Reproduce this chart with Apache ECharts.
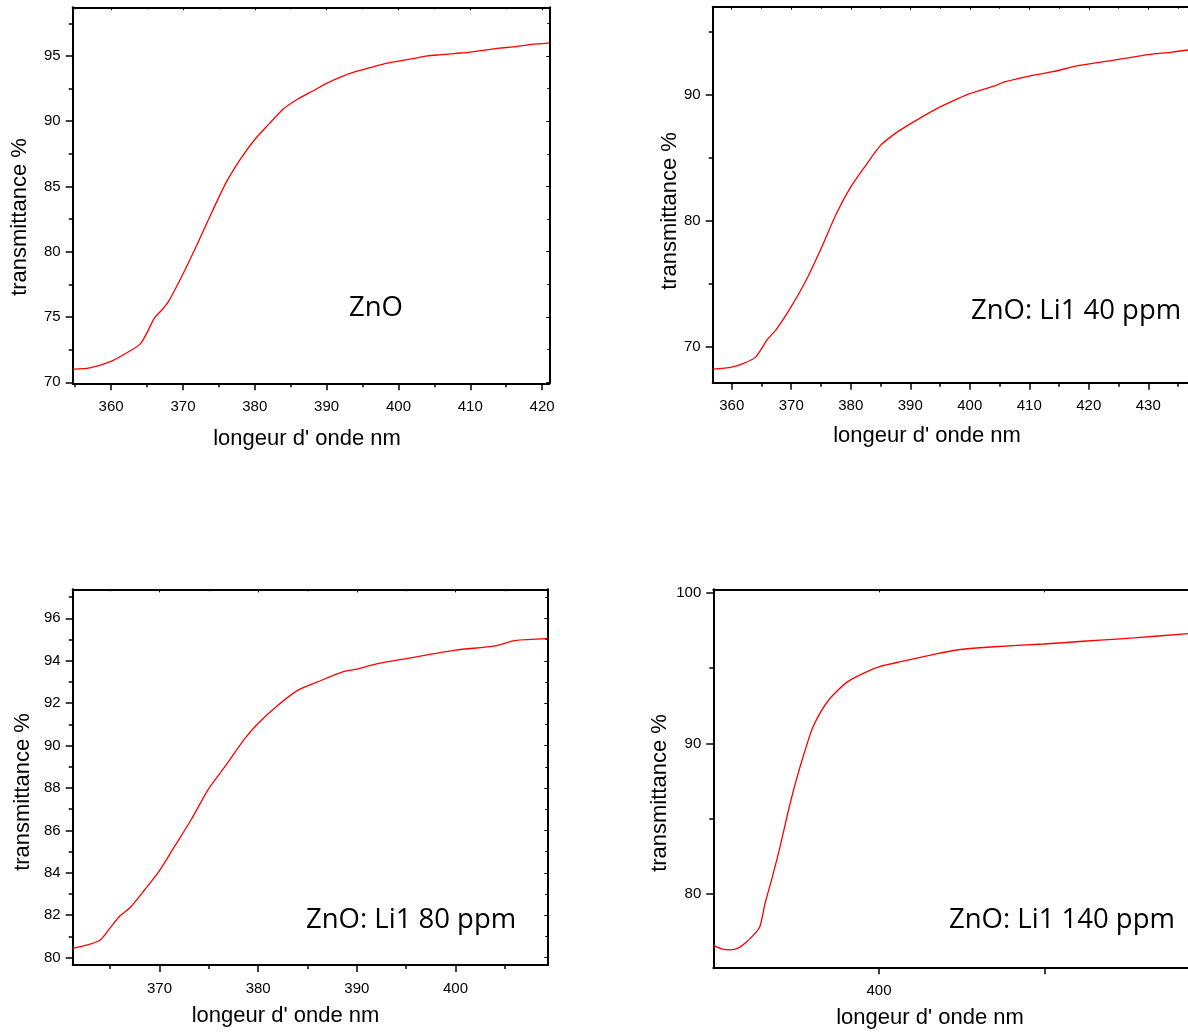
<!DOCTYPE html>
<html>
<head>
<meta charset="utf-8">
<script src="https://cdn.jsdelivr.net/npm/echarts@6/dist/echarts.min.js"></script>
<style>
html,body{margin:0;padding:0;background:#fff;}
#main{width:1188px;height:1032px;}
</style>
</head>
<body>
<div id="main"></div>
<script>
// ZnO (en haut a gauche)
var znoX = [354.7,357,360,362,364,365,366,367,368,370,372,374,376,378,380,382,384,386,388,390,392,394,396,398,400,402,404,406,408,410,412,414,416,418,420,421];
var znoY = [71.0,71.1,71.6,72.2,72.9,73.8,74.9,75.5,76.2,78.3,80.6,83.0,85.3,87.1,88.6,89.8,90.95,91.7,92.3,92.9,93.4,93.8,94.1,94.4,94.6,94.8,95.0,95.1,95.2,95.3,95.45,95.6,95.7,95.85,95.95,96.0];

// ZnO: Li1 40 ppm (en haut a droite)
var li40X = [356.8,360,362,364,366,367.5,370,372.5,375,377.5,380,382.5,385,387.5,390,394,398,400,404,406,410,414,418,422,426,430,434,438,442];
var li40Y = [68.25,68.4,68.7,69.2,70.6,71.4,73.2,75.3,77.8,80.5,82.7,84.4,86.0,86.95,87.7,88.8,89.7,90.1,90.7,91.05,91.5,91.85,92.3,92.6,92.9,93.2,93.4,93.65,93.9];

// ZnO: Li1 80 ppm (en bas a gauche)
var li80X = [361.2,362.7,364,365,366,367,368.5,370,371.6,373.2,374.9,376.7,378.6,380,382,384,386,388.7,390,392,395,400,404,406,409.3];
var li80Y = [80.44,80.6,80.83,81.4,81.97,82.35,83.2,84.1,85.3,86.5,87.9,89.05,90.3,91.05,91.9,92.6,93.0,93.5,93.6,93.85,94.1,94.5,94.7,94.95,95.04];

// ZnO: Li1 140 ppm (en bas a droite)
var li140X = [350,352.5,355,357.6,360.5,363.9,365.6,367.8,370.1,372.4,374.7,377.5,380.3,384.9,390.6,397.4,400.2,405.9,415.6,423.5,433.8,449.7,456.5,466.7,476.9,493.8,500];
var li140Y = [76.59,76.37,76.3,76.43,76.92,77.76,79.36,81.13,83.1,85.3,87.3,89.4,91.2,92.9,94.1,94.86,95.1,95.4,95.86,96.2,96.4,96.6,96.7,96.86,97.0,97.3,97.4];

// graduations
var p1XTicks = [360,370,380,390,400,410,420];
var p1YTicks = [70,75,80,85,90,95];
var p2XTicks = [360,370,380,390,400,410,420,430,440];
var p2YTicks = [70,80,90];
var p3XTicks = [370,380,390,400];
var p3YTicks = [80,82,84,86,88,90,92,94,96];
var p4XTicks = [400,450];
var p4XLabels = [400];
var p4YTicks = [80,90,100];

var xTitle = "longeur d' onde nm";
var yTitle = 'transmittance %';

var chart = echarts.init(document.getElementById('main'));

function pairs(xs, ys) {
    return xs.map(function (x, i) { return [x, ys[i]]; });
}

var tickFont = 'Liberation Sans, Arial, sans-serif';
var black = '#000';

// axe principal (avec etiquettes)
function mainAxis(g, pos, min, max, step, ticks, labels, minor) {
    return {
        type: 'value', gridIndex: g, position: pos,
        min: min, max: max, minInterval: step, maxInterval: step,
        axisLine: {show: true, onZero: false, lineStyle: {color: black, width: 2}},
        axisTick: {show: true, length: 7, customValues: ticks, lineStyle: {color: black, width: 1.5}},
        minorTick: {show: minor > 0, splitNumber: minor || 2, length: 4, lineStyle: {color: black, width: 1.5}},
        axisLabel: {show: true, customValues: labels, margin: pos === 'bottom' ? 16 : 12,
            fontSize: 15, color: black, fontFamily: tickFont},
        splitLine: {show: false}
    };
}

// axe miroir (haut / droite), sans etiquettes
function mirrorAxis(g, pos, min, max, step, ticks, minor) {
    return {
        type: 'value', gridIndex: g, position: pos,
        min: min, max: max, minInterval: step, maxInterval: step,
        axisLine: {show: true, onZero: false, lineStyle: {color: black, width: 2}},
        axisTick: {show: true, inside: true, length: 3, customValues: ticks, lineStyle: {color: black, width: 1}},
        minorTick: {show: minor > 0, splitNumber: minor || 2, length: 2, lineStyle: {color: black, width: 1}},
        axisLabel: {show: false},
        splitLine: {show: false}
    };
}

function curve(i, xs, ys) {
    return {
        type: 'line', xAxisIndex: 2 * i, yAxisIndex: 2 * i,
        data: pairs(xs, ys), showSymbol: false,
        smooth: 0.25,
        lineStyle: {color: '#ff0000', width: 1.3}, itemStyle: {color: '#ff0000'}
    };
}

function title(x, y, text, rot) {
    return {
        type: 'text', x: x, y: y, rotation: rot ? Math.PI / 2 : 0,
        style: {text: text, fill: black, fontSize: 22, fontFamily: tickFont, align: 'center', verticalAlign: 'middle'}
    };
}

function note(x, y, text) {
    return {
        type: 'text', x: x, y: y,
        style: {text: text, fill: black, fontSize: 27.5, fontFamily: 'Open Sans, Noto Sans, sans-serif', align: 'left', verticalAlign: 'middle'}
    };
}

var option = {
    animation: false,
    backgroundColor: '#fff',
    grid: [
        {left: 72.7, top: 7.3, width: 476.6, height: 376, outerBoundsMode: 'none'},
        {left: 712.7, top: 6.7, width: 507, height: 376, outerBoundsMode: 'none'},
        {left: 72.7, top: 589.3, width: 474.6, height: 375.7, outerBoundsMode: 'none'},
        {left: 713.3, top: 589.3, width: 497, height: 378, outerBoundsMode: 'none'}
    ],
    xAxis: [
        mainAxis(0, 'bottom', 354.65, 421.0, 10, p1XTicks, p1XTicks, 2),
        mirrorAxis(0, 'top', 354.65, 421.0, 10, p1XTicks, 2),
        mainAxis(1, 'bottom', 356.8, 442, 10, p2XTicks, p2XTicks, 2),
        mirrorAxis(1, 'top', 356.8, 442, 10, p2XTicks, 2),
        mainAxis(2, 'bottom', 361.2, 409.3, 10, p3XTicks, p3XTicks, 2),
        mirrorAxis(2, 'top', 361.2, 409.3, 10, p3XTicks, 2),
        mainAxis(3, 'bottom', 350, 500, 50, p4XTicks, p4XLabels, 0),
        mirrorAxis(3, 'top', 350, 500, 50, p4XTicks, 0)
    ],
    yAxis: [
        mainAxis(0, 'left', 69.92, 98.73, 5, p1YTicks, p1YTicks, 2),
        mirrorAxis(0, 'right', 69.92, 98.73, 5, p1YTicks, 2),
        mainAxis(1, 'left', 67.17, 97.0, 10, p2YTicks, p2YTicks, 2),
        mirrorAxis(1, 'right', 67.17, 97.0, 10, p2YTicks, 2),
        mainAxis(2, 'left', 79.65, 97.37, 2, p3YTicks, p3YTicks, 2),
        mirrorAxis(2, 'right', 79.65, 97.37, 2, p3YTicks, 2),
        mainAxis(3, 'left', 75.14, 100.23, 10, p4YTicks, p4YTicks, 2),
        mirrorAxis(3, 'right', 75.14, 100.23, 10, p4YTicks, 2)
    ],
    series: [
        curve(0, znoX, znoY),
        curve(1, li40X, li40Y),
        curve(2, li80X, li80Y),
        curve(3, li140X, li140Y)
    ],
    graphic: [
        title(20, 217, yTitle, true),
        title(307, 439, xTitle, false),
        title(670, 211, yTitle, true),
        title(927, 436, xTitle, false),
        title(22.5, 792, yTitle, true),
        title(285.5, 1016, xTitle, false),
        title(660, 793, yTitle, true),
        title(930, 1018, xTitle, false),
        note(349, 308, 'ZnO'),
        note(971, 311, 'ZnO: Li1 40 ppm'),
        note(306, 920, 'ZnO: Li1 80 ppm'),
        note(949, 920, 'ZnO: Li1 140 ppm')
    ]
};

chart.setOption(option);
</script>
</body>
</html>
